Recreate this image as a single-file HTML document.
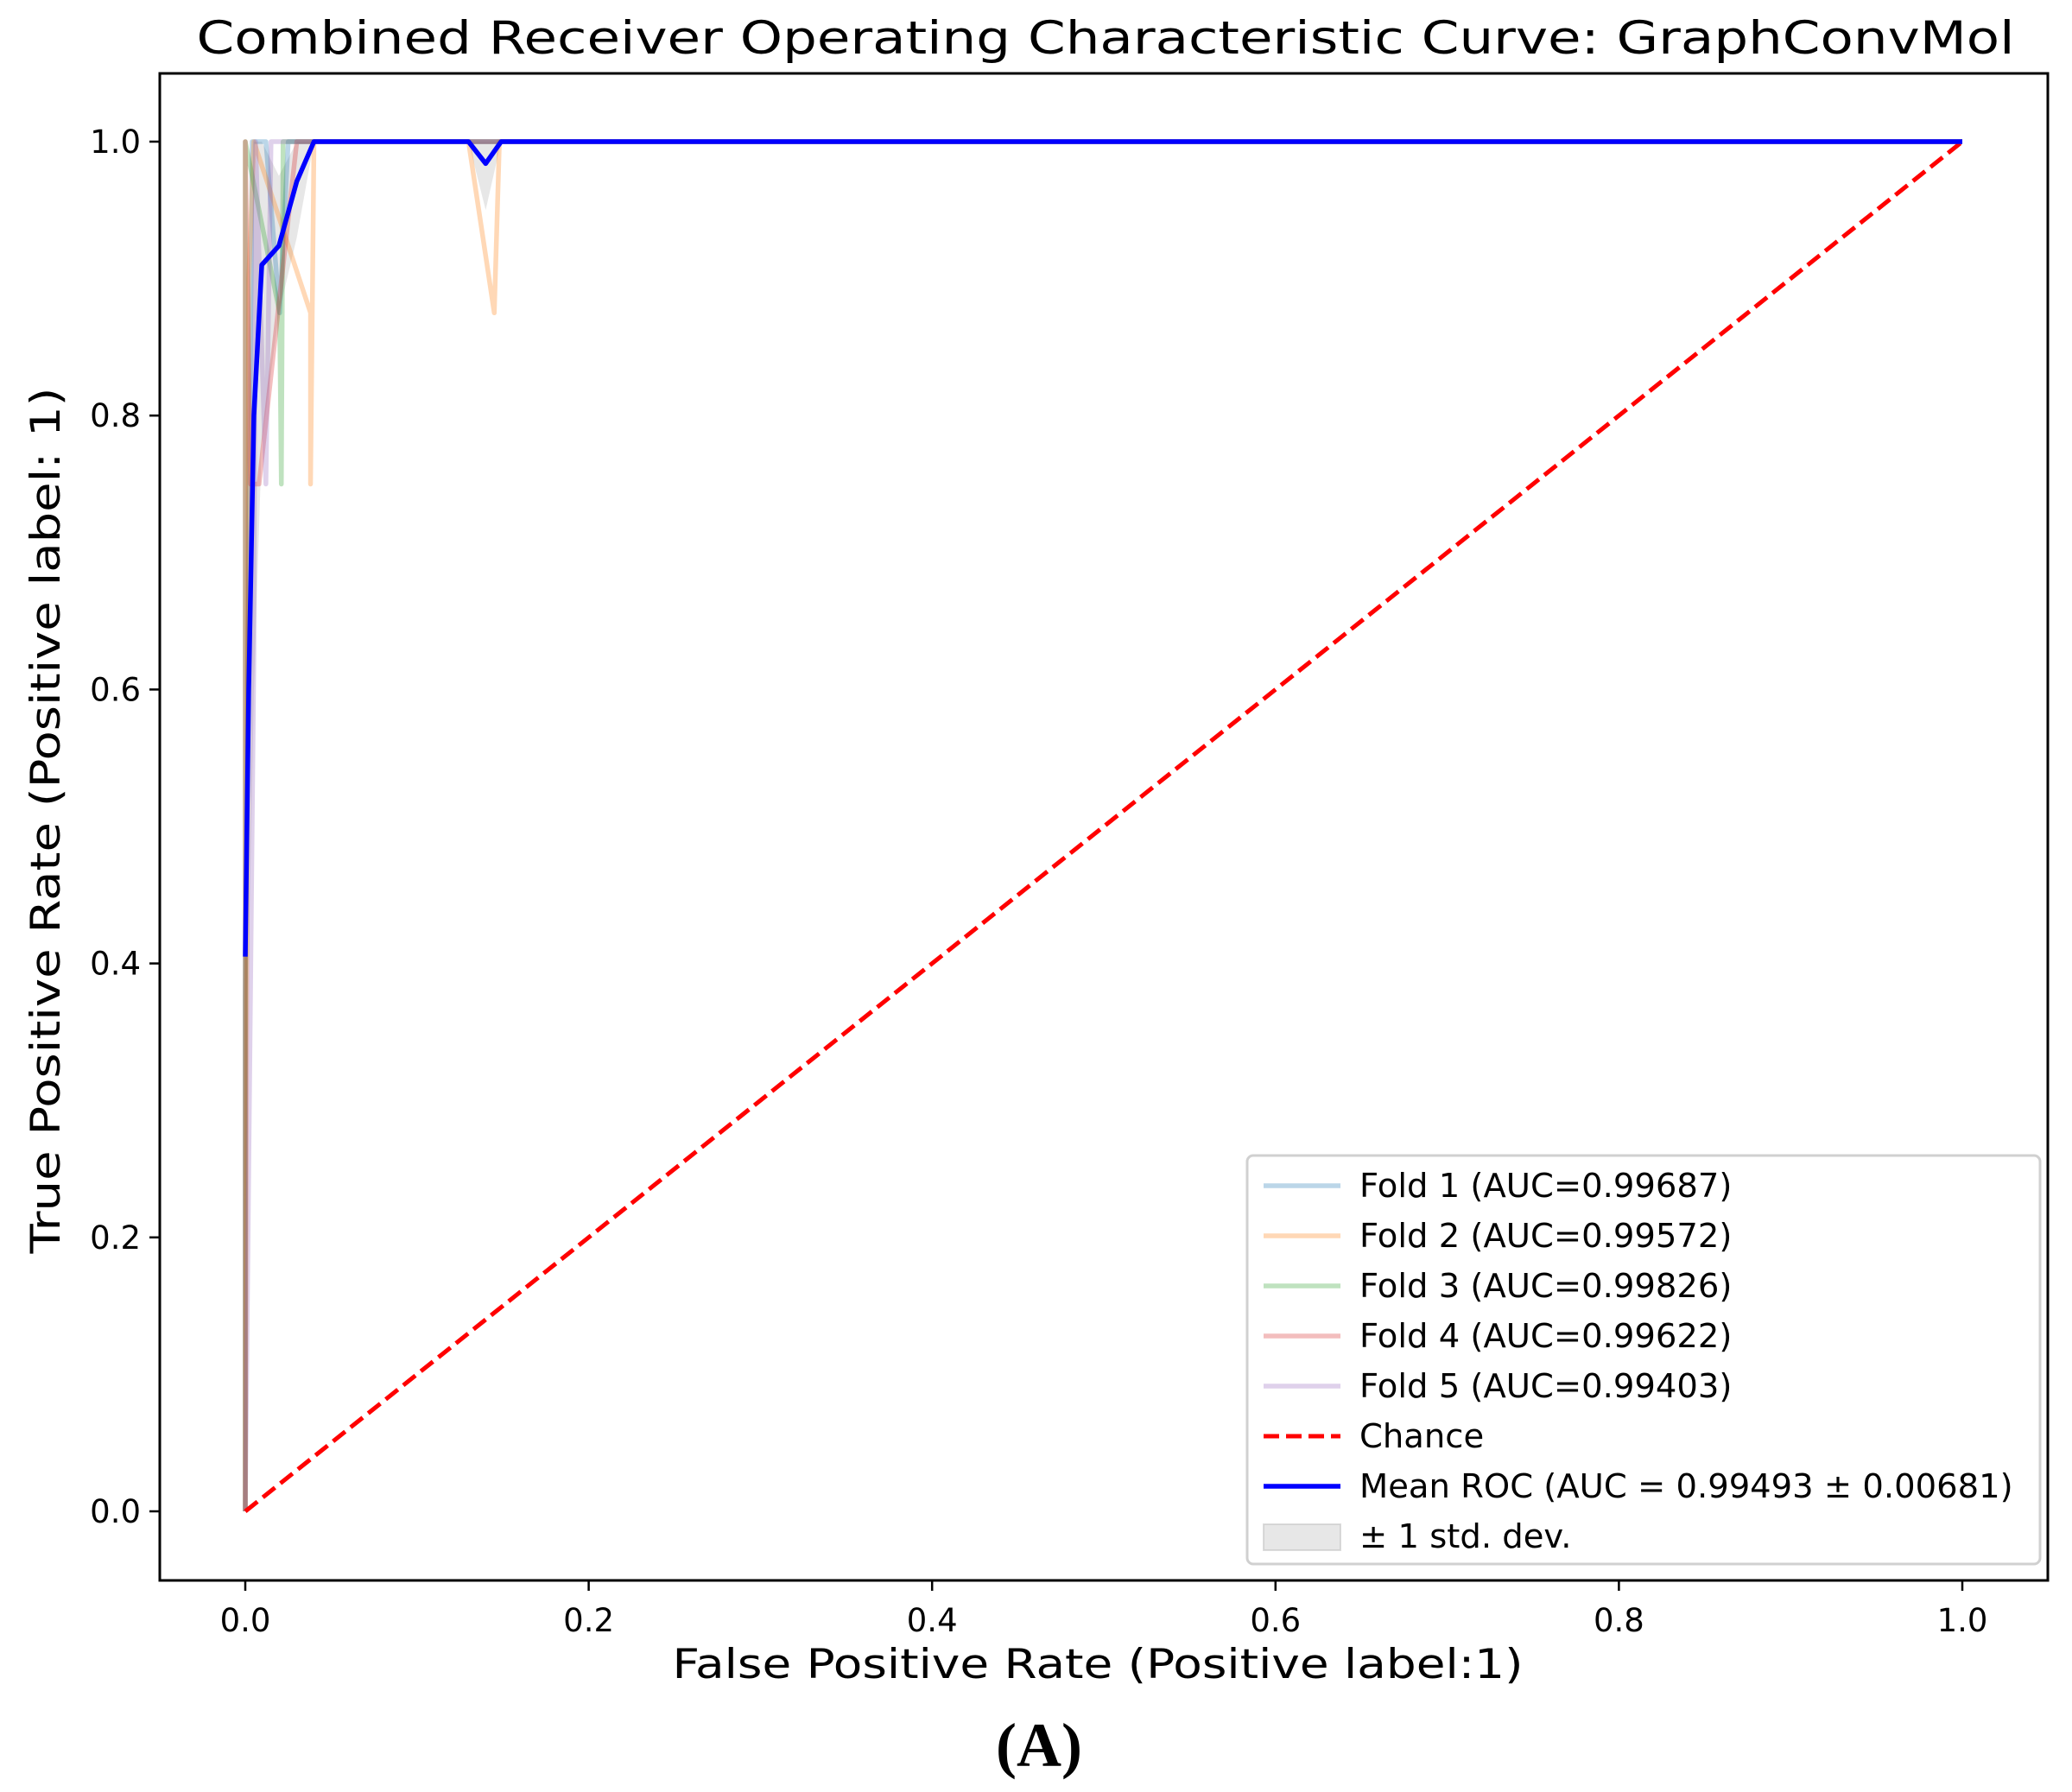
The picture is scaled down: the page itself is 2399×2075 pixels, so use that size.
<!DOCTYPE html>
<html><head><meta charset="utf-8">
<style>
html,body{margin:0;padding:0;background:#fff;}
svg{display:block;font-family:"DejaVu Sans","Liberation Sans",sans-serif;}
</style></head>
<body>
<svg id="chart" width="2399" height="2075" viewBox="0 0 2399 2075" xmlns="http://www.w3.org/2000/svg">
<rect x="0" y="0" width="2399" height="2075" fill="#fff"/>
<text x="1280" y="62" font-size="53" text-anchor="middle" textLength="2105" lengthAdjust="spacingAndGlyphs">Combined Receiver Operating Characteristic Curve: GraphConvMol</text>
<g id="plot"></g>
<rect x="185" y="85" width="2186" height="1745" fill="none" stroke="#000" stroke-width="3"/>
<g id="ticks"></g>
<text x="1271" y="1943" font-size="47" text-anchor="middle" textLength="985" lengthAdjust="spacingAndGlyphs">False Positive Rate (Positive label:1)</text>
<text x="0" y="0" font-size="47" text-anchor="middle" textLength="1003" lengthAdjust="spacingAndGlyphs" transform="translate(69,950) rotate(-90)">True Positive Rate (Positive label: 1)</text>
<text x="1203" y="2045" font-size="72" font-weight="bold" text-anchor="middle" font-family="'Liberation Serif','DejaVu Serif',serif">(A)</text>
<g id="legend"></g>
</svg>
<script>
const xTicks = [0.0, 0.2, 0.4, 0.6, 0.8, 1.0];
const yTicks = [0.0, 0.2, 0.4, 0.6, 0.8, 1.0];
const tickLabels = ["0.0", "0.2", "0.4", "0.6", "0.8", "1.0"];
const foldNames = ["Fold 1 (AUC=0.99687)", "Fold 2 (AUC=0.99572)", "Fold 3 (AUC=0.99826)", "Fold 4 (AUC=0.99622)", "Fold 5 (AUC=0.99403)"];
const fold1Fpr = [0, 0, 0.004, 0.012, 0.02, 0.025, 1];
const fold1Tpr = [0, 0.375, 1, 1, 0.875, 1, 1];
const fold2Fpr = [0, 0.002, 0.005, 0.038, 0.038, 0.04, 0.13, 0.145, 0.148, 1];
const fold2Tpr = [0, 0.9, 1, 0.875, 0.75, 1, 1, 0.875, 1, 1];
const fold3Fpr = [0, 0, 0.02, 0.021, 0.022, 0.025, 1];
const fold3Tpr = [0, 1, 0.875, 0.75, 1, 1, 1];
const fold4Fpr = [0, 0, 0.003, 0.008, 0.03, 1];
const fold4Tpr = [0, 1, 0.75, 0.75, 1, 1];
const fold5Fpr = [0, 0.005, 0.006, 0.012, 0.015, 1];
const fold5Tpr = [0, 0.625, 1, 0.75, 1, 1];
const meanFpr = [0, 0.002, 0.005, 0.0096, 0.0196, 0.03, 0.04, 0.122, 0.13, 0.14, 0.149, 1];
const meanTpr = [0.405, 0.6, 0.8, 0.91, 0.924, 0.971, 1, 1, 1, 0.984, 1, 1];
const stdLower = [0.2, 0.4, 0.6, 0.78, 0.875, 0.93, 1, 1, 1, 0.95, 1, 1];
const stdUpper = [0.61, 0.8, 1, 1, 0.975, 1, 1, 1, 1, 1, 1, 1];
const foldColors = ["#1f77b4", "#ff7f0e", "#2ca02c", "#d62728", "#9467bd"];
const foldData = [[fold1Fpr, fold1Tpr], [fold2Fpr, fold2Tpr], [fold3Fpr, fold3Tpr], [fold4Fpr, fold4Tpr], [fold5Fpr, fold5Tpr]];

const NS = "http://www.w3.org/2000/svg";
const xs = v => 284 + v * 1988;
const ys = v => 1750 - v * 1586;
function mk(tag, attrs, parent) {
  const e = document.createElementNS(NS, tag);
  for (const k in attrs) e.setAttribute(k, attrs[k]);
  parent.appendChild(e);
  return e;
}
const plot = document.getElementById("plot");
let bandPts = meanFpr.map((f, i) => xs(f) + "," + ys(Math.min(1, stdUpper[i])));
for (let i = meanFpr.length - 1; i >= 0; i--) bandPts.push(xs(meanFpr[i]) + "," + ys(stdLower[i]));
const band = mk("polygon", {points: bandPts.join(" "), fill: "#bbbbbb", "fill-opacity": 0.35}, plot);


foldData.forEach((d, k) => {
  const pts = d[0].map((f, i) => xs(f) + "," + ys(d[1][i])).join(" ");
  const pl = mk("polyline", {points: pts, fill: "none", stroke: foldColors[k], "stroke-opacity": 0.3, "stroke-width": 5.5, "stroke-linejoin": "round"}, plot);
  
  
});
const chance = mk("line", {x1: xs(0), y1: ys(0), x2: xs(1), y2: ys(1), stroke: "#ff0000", "stroke-width": 5, "stroke-dasharray": "18,8"}, plot);


const meanPts = meanFpr.map((f, i) => xs(f) + "," + ys(meanTpr[i])).join(" ");
const mean = mk("polyline", {points: meanPts, fill: "none", stroke: "#0000ff", "stroke-width": 5.5, "stroke-linejoin": "round"}, plot);



const ticks = document.getElementById("ticks");
xTicks.forEach((t, i) => {
  const l = mk("line", {x1: xs(t), y1: 1830, x2: xs(t), y2: 1842, stroke: "#000", "stroke-width": 2.5}, ticks);
  
  
  const tx = mk("text", {x: xs(t), y: 1889, "font-size": 37, "text-anchor": "middle"}, ticks);
  tx.textContent = tickLabels[i];
  
  
});
yTicks.forEach((t, i) => {
  const l = mk("line", {x1: 173, y1: ys(t), x2: 185, y2: ys(t), stroke: "#000", "stroke-width": 2.5}, ticks);
  
  
  const tx = mk("text", {x: 163, y: ys(t) + 13, "font-size": 37, "text-anchor": "end"}, ticks);
  tx.textContent = tickLabels[i];
  
  
});

const lg = document.getElementById("legend");
const box = mk("rect", {x: 1444, y: 1338, width: 918, height: 473, rx: 7, fill: "#fff", "fill-opacity": 0.8, stroke: "#d0d0d0", "stroke-width": 3}, lg);


const legendLabels = foldNames.concat(["Chance", "Mean ROC (AUC = 0.99493 \u00b1 0.00681)", "\u00b1 1 std. dev."]);
legendLabels.forEach((lab, i) => {
  const y = 1373 + i * 58;
  if (i < 5) {
    const h = mk("line", {x1: 1463, y1: y, x2: 1552, y2: y, stroke: foldColors[i], "stroke-opacity": 0.3, "stroke-width": 5.5}, lg);
    
    
  } else if (i === 5) {
    const h = mk("line", {x1: 1463, y1: y, x2: 1552, y2: y, stroke: "#ff0000", "stroke-width": 5, "stroke-dasharray": "18,8"}, lg);
    
    
  } else if (i === 6) {
    const h = mk("line", {x1: 1463, y1: y, x2: 1552, y2: y, stroke: "#0000ff", "stroke-width": 5.5}, lg);
    
    
  } else {
    const h = mk("rect", {x: 1463, y: y - 14, width: 89, height: 30, fill: "#bbbbbb", "fill-opacity": 0.35, stroke: "#bbbbbb", "stroke-opacity": 0.5, "stroke-width": 2}, lg);
    
    
  }
  const t = mk("text", {x: 1574, y: y + 13, "font-size": 38.5}, lg);
  t.textContent = lab;
  
  
});
</script>
</body></html>
